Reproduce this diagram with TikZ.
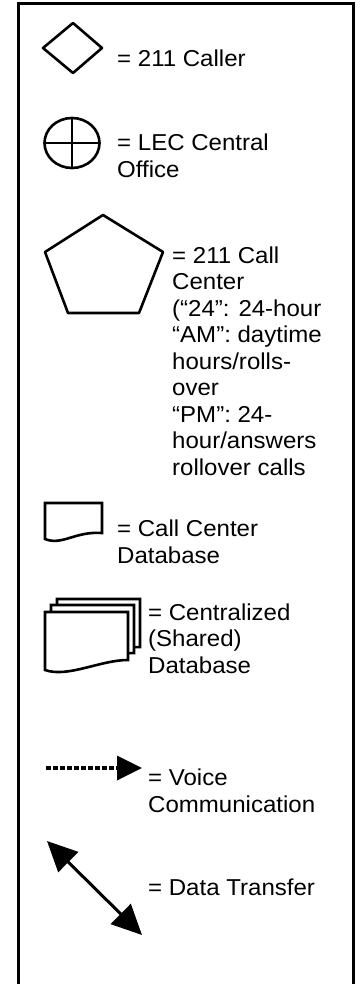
\documentclass[tikz,border=0pt]{standalone}
\usepackage{fontspec}
\setmainfont[FakeStretch=1.045]{Liberation Sans}
\usepackage{tikz}
\usepackage{tkz-euclide}
\usetikzlibrary{arrows.meta}

\tikzset{
  legtext/.style={anchor=base west,align=left,inner sep=0pt,
    font=\fontsize{23}{26.5}\selectfont},
  symline/.style={line width=2.6pt,black},
  docline/.style={line width=2.6pt,black,fill=white,line join=miter}
}

\begin{document}
\begin{tikzpicture}[x=1pt,y=-1pt]
    \useasboundingbox (0,0) rectangle (362,984);
    \draw[line width=3pt] (18,995) -- (18,4) -- (353,4) -- (353,995);
    % caller
    \tkzDefPoints{43/48/D_1,73/23/D_2,102/48/D_3,73/73/D_4}
    \tkzDrawPolygon[symline](D_1,D_2,D_3,D_4)
    \node[legtext] (caller) at (117,67) {= 211 Caller};
    % central office (base = last line)
    \tkzDefPoints{72/143/O,44.5/143/W,99.5/143/E,72/118/N,72/168/S}
    \draw[symline] (O) ellipse [x radius=27.5,y radius=25];
    \tkzDrawSegments[symline](W,E N,S)
    \node[legtext] (lec) at (117,177.5) {= LEC Central\\Office};
    % call center
    \tkzDefPoints{103/215/P_1,163/252/P_2,139/313/P_3,68/313/P_4,45/252/P_5}
    \tkzDrawPolygon[symline](P_1,P_2,P_3,P_4,P_5)
    \node[legtext] (center) at (172,475) {= 211 Call\\Center\\(“24”: 24-hour\\“AM”: daytime\\hours/rolls-\\over\\“PM”: 24-\\hour/answers\\rollover calls};
    % call center database
    \draw[docline] (45,539) -- (45,503) -- (102,503) -- (102,533)
        .. controls (75,531) and (62,546) .. cycle;
    \node[legtext] (db) at (117,563) {= Call Center\\Database};
    % shared database
    \foreach \dx/\dy in {12/-13,6/-7,0/0}
      \draw[docline] (45+\dx,670+\dy) -- (45+\dx,612+\dy) -- (128+\dx,612+\dy)
          -- (128+\dx,660+\dy) .. controls (100+\dx,660+\dy) and (68+\dx,678+\dy) .. cycle;
    \node[legtext] (shared) at (148,673) {= Centralized\\(Shared)\\Database};
    % voice
    \coordinate (v1) at (46,768);
    \coordinate (v2) at (142,768);
    \draw[line width=3.6pt,dash pattern=on 4.5pt off 2.5pt,
        -{Triangle[length=25pt,width=24pt]}] (v1) -- (v2);
    \node[legtext] (voice) at (148,812) {= Voice\\Communication};
    % data
    \coordinate (d1) at (47,841);
    \coordinate (d2) at (142,935);
    \draw[line width=3pt,{Triangle[length=30pt,width=28pt]}-{Triangle[length=30pt,width=28pt]}] (d1) -- (d2);
    \node[legtext] (data) at (148,895) {= Data Transfer};
\end{tikzpicture}
\end{document}
